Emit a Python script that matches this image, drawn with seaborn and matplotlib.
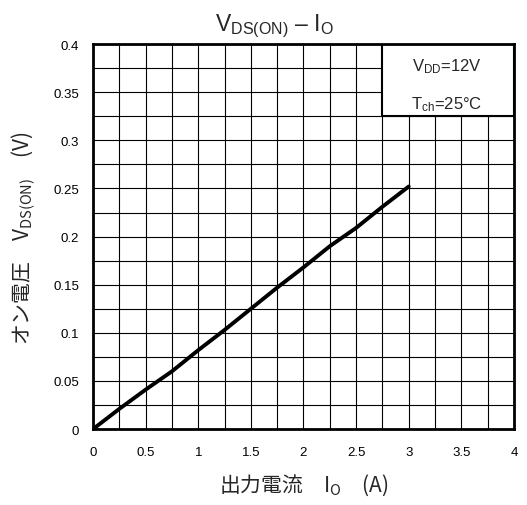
import matplotlib
matplotlib.use("Agg")
import matplotlib.pyplot as plt
import seaborn as sns
import pandas as pd
from matplotlib.patches import Rectangle
from matplotlib.ticker import MultipleLocator

# data
current_a = [0.0, 0.25, 0.5, 0.75, 1.0, 1.25, 1.5, 1.75, 2.0, 2.25, 2.5, 2.75, 3.0]
vds_on_v = [0.0, 0.021, 0.041, 0.060, 0.082, 0.103, 0.125, 0.147, 0.168, 0.190, 0.209, 0.231, 0.252]
x_ticks = [0, 0.5, 1, 1.5, 2, 2.5, 3, 3.5, 4]
y_ticks = [0, 0.05, 0.1, 0.15, 0.2, 0.25, 0.3, 0.35, 0.4]
x_tick_labels = ["0", "0.5", "1", "1.5", "2", "2.5", "3", "3.5", "4"]
y_tick_labels = ["0", "0.05", "0.1", "0.15", "0.2", "0.25", "0.3", "0.35", "0.4"]

sns.set_style("white")
plt.rcParams["font.family"] = ["Liberation Sans", "Noto Sans CJK JP", "DejaVu Sans"]
plt.rcParams["mathtext.fontset"] = "custom"
plt.rcParams["mathtext.rm"] = "Liberation Sans"
plt.rcParams["mathtext.it"] = "Liberation Sans"

df = pd.DataFrame({"Io": current_a, "Vds": vds_on_v})

fig = plt.figure(figsize=(5.27, 5.06), dpi=100)
ax = fig.add_axes([0.1765, 0.150, 0.7988, 0.761])

sns.lineplot(data=df, x="Io", y="Vds", color="black", linewidth=2.8, ax=ax, zorder=5)

ax.set_xlim(0, 4)
ax.set_ylim(0, 0.4)
ax.set_xticks(x_ticks)
ax.set_xticklabels(x_tick_labels)
ax.set_yticks(y_ticks)
ax.set_yticklabels(y_tick_labels)
ax.xaxis.set_minor_locator(MultipleLocator(0.25))
ax.yaxis.set_minor_locator(MultipleLocator(0.025))
ax.grid(True, which="both", color="black", linewidth=0.8)
ax.set_axisbelow(True)
ax.tick_params(which="both", length=0, labelsize=9.5, colors="black")
ax.tick_params(axis="x", pad=12)
ax.tick_params(axis="y", pad=10)
for s in ax.spines.values():
    s.set_color("black")
    s.set_linewidth(2)
    s.set_zorder(10)

# condition box
ax.add_patch(Rectangle((0.6875, 0.8125), 0.3125, 0.1875, transform=ax.transAxes,
                       facecolor="white", edgecolor="black", linewidth=1.5, zorder=6))
ax.text(0.84, 0.945, r"$\mathregular{V_{DD}}$=12V", transform=ax.transAxes,
        ha="center", va="center", fontsize=12, zorder=7)
ax.text(0.84, 0.846, r"$\mathregular{T_{ch}}$=25°C", transform=ax.transAxes,
        ha="center", va="center", fontsize=12, zorder=7)

ax.set_title(r"$\mathregular{V_{DS(ON)}}$ – $\mathregular{I_O}$", fontsize=16.5, pad=10, x=0.43)
ax.set_xlabel("出力電流　$\\mathregular{I_O}$　(A)", fontsize=15,
              family=["Noto Sans CJK JP", "Liberation Sans"], labelpad=10)
ax.set_ylabel("オン電圧　$\\mathregular{V_{DS(ON)}}$　(V)", fontsize=15,
              family=["Noto Sans CJK JP", "Liberation Sans"], labelpad=12)

fig.savefig("out.png", dpi=100)
